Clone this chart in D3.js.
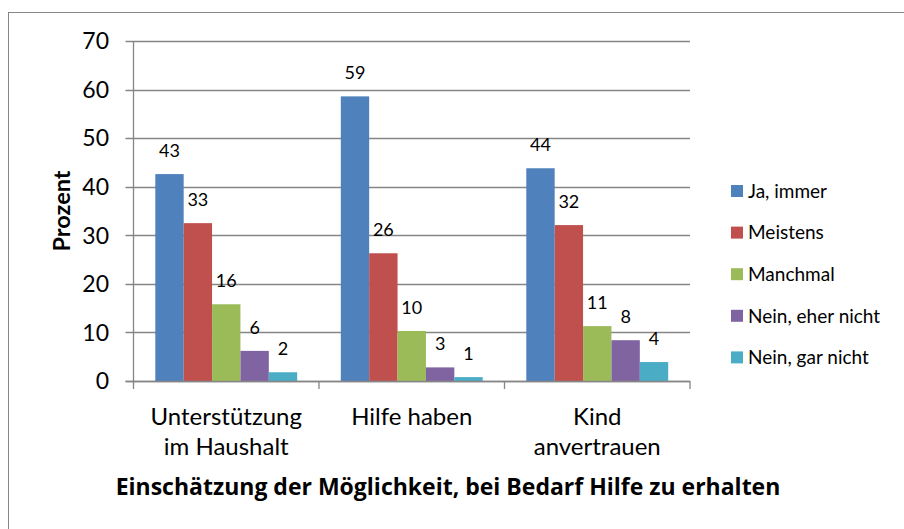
<!DOCTYPE html>
<html>
<head>
<meta charset="utf-8">
<script src="https://cdn.jsdelivr.net/npm/d3@7"></script>
<style>
  body { margin: 0; background: #fff; }
  text { font-family: Lato, "Open Sans", sans-serif; fill: #000; }
</style>
</head>
<body>
<div id="chart"></div>
<script>
// categorieen en reeksen
const categories = ["Unterstützung im Haushalt", "Hilfe haben", "Kind anvertrauen"];
const categoryLines = [["Unterstützung", "im Haushalt"], ["Hilfe haben"], ["Kind", "anvertrauen"]];
const series = ["Ja, immer", "Meistens", "Manchmal", "Nein, eher nicht", "Nein, gar nicht"];
const jaImmer = [42.6, 58.6, 43.8];
const meistens = [32.5, 26.3, 32.1];
const manchmal = [15.8, 10.3, 11.3];
const eherNicht = [6.2, 2.8, 8.4];
const garNicht = [1.8, 0.8, 3.9];
const yTicks = [0, 10, 20, 30, 40, 50, 60, 70];

const values = [jaImmer, meistens, manchmal, eherNicht, garNicht];
const colors = ["#4F81BD", "#C0504D", "#9BBB59", "#8064A2", "#4BACC6"];

const width = 904, height = 529;
const plot = { left: 133.5, right: 690, top: 41, bottom: 381 };

const svg = d3.select("#chart").append("svg")
    .attr("width", width)
    .attr("height", height);

// kader rond de grafiek
svg.append("rect")
    .attr("x", 8.5).attr("y", 12.5)
    .attr("width", 1000).attr("height", 1000)
    .attr("fill", "none")
    .attr("stroke", "#868686");

const y = d3.scaleLinear().domain([0, 70]).range([plot.bottom, plot.top]);

const x0 = d3.scaleBand()
    .domain(categories)
    .range([plot.left, plot.right])
    .paddingInner(0.235)
    .paddingOuter(0.1175);

const x1 = d3.scaleBand()
    .domain(series)
    .range([0, x0.bandwidth()]);

// rasterlijnen
svg.append("g").selectAll("line")
    .data(yTicks)
    .enter().append("line")
    .attr("x1", plot.left - 8)
    .attr("x2", plot.right)
    .attr("y1", d => Math.round(y(d)) + 0.5)
    .attr("y2", d => Math.round(y(d)) + 0.5)
    .attr("stroke", "#868686")
    .attr("stroke-width", 1.3);

// y-as labels
svg.append("g").selectAll("text")
    .data(yTicks)
    .enter().append("text")
    .attr("x", 109)
    .attr("y", d => y(d))
    .attr("dy", "0.36em")
    .attr("text-anchor", "end")
    .style("font-size", "23px")
    .text(d => d);

// balken
const groups = svg.append("g").selectAll("g")
    .data(categories)
    .enter().append("g")
    .attr("transform", d => "translate(" + x0(d) + ",0)");

groups.selectAll("rect")
    .data((d, i) => series.map((s, j) => ({ s: s, v: values[j][i], c: colors[j] })))
    .enter().append("rect")
    .attr("x", d => x1(d.s))
    .attr("width", x1.bandwidth())
    .attr("y", d => y(d.v))
    .attr("height", d => y(0) - y(d.v))
    .attr("fill", d => d.c);

// waarden boven de balken
groups.selectAll("text")
    .data((d, i) => series.map((s, j) => ({ s: s, v: values[j][i] })))
    .enter().append("text")
    .attr("x", d => x1(d.s) + x1.bandwidth() / 2)
    .attr("y", d => y(d.v) - 17)
    .attr("text-anchor", "middle")
    .style("font-size", "18px")
    .text(d => Math.round(d.v));

// assen
svg.append("line")
    .attr("x1", plot.left).attr("x2", plot.left)
    .attr("y1", plot.top).attr("y2", plot.bottom)
    .attr("stroke", "#868686").attr("stroke-width", 1.3);

svg.append("line")
    .attr("x1", plot.left - 8).attr("x2", plot.right)
    .attr("y1", Math.round(y(0)) + 0.5).attr("y2", Math.round(y(0)) + 0.5)
    .attr("stroke", "#868686").attr("stroke-width", 1.3);

const catEdges = categories.map(c => x0(c) - x0.step() * x0.paddingOuter()).concat([plot.right]);
svg.append("g").selectAll("line")
    .data(catEdges)
    .enter().append("line")
    .attr("x1", d => d).attr("x2", d => d)
    .attr("y1", plot.bottom).attr("y2", plot.bottom + 8)
    .attr("stroke", "#868686").attr("stroke-width", 1.3);

// categorie labels
svg.append("g").selectAll("text")
    .data(categories)
    .enter().append("text")
    .attr("x", d => x0(d) + x0.bandwidth() / 2)
    .attr("y", 425)
    .attr("text-anchor", "middle")
    .style("font-size", "24px")
    .each(function (d, i) {
        d3.select(this).selectAll("tspan")
            .data(categoryLines[i])
            .enter().append("tspan")
            .attr("x", x0(d) + x0.bandwidth() / 2)
            .attr("dy", (t, k) => k === 0 ? 0 : 30)
            .text(t => t);
    });

// as titels
svg.append("text")
    .attr("transform", "translate(70,211) rotate(-90)")
    .attr("text-anchor", "middle")
    .style("font-size", "23.5px")
    .style("font-weight", "bold")
    .text("Prozent");

svg.append("text")
    .attr("x", 448)
    .attr("y", 495)
    .attr("text-anchor", "middle")
    .style("font-family", "'Open Sans', sans-serif")
    .style("font-size", "23px")
    .style("font-weight", "bold")
    .text("Einschätzung der Möglichkeit, bei Bedarf Hilfe zu erhalten");

// legenda
const legend = svg.append("g").selectAll("g")
    .data(series)
    .enter().append("g")
    .attr("transform", (d, i) => "translate(731," + (191 + i * 41.6) + ")");

legend.append("rect")
    .attr("x", 0).attr("y", -6)
    .attr("width", 12).attr("height", 12)
    .attr("fill", (d, i) => colors[i]);

legend.append("text")
    .attr("x", 17)
    .attr("dy", "0.36em")
    .style("font-size", "19px")
    .text(d => d);
</script>
</body>
</html>
